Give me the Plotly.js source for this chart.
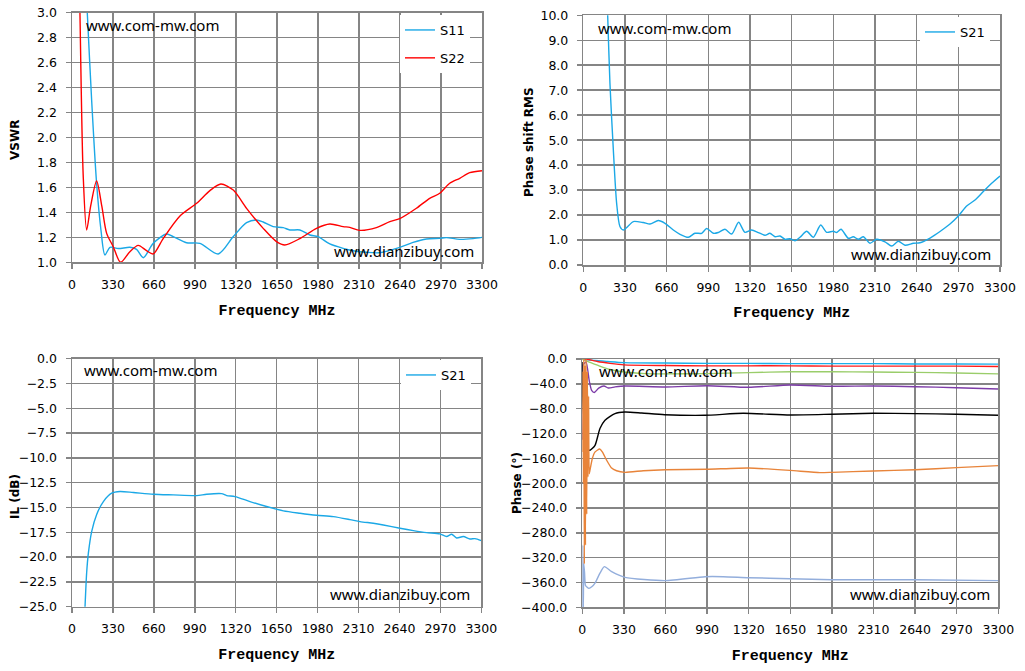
<!DOCTYPE html>
<html>
<head>
<meta charset="utf-8">
<script src="https://cdn.plot.ly/plotly-3.0.1.min.js"></script>
<style>html,body{margin:0;padding:0;background:#fff;}#chart{width:1025px;height:671px;}</style>
</head>
<body>
<div id="chart"></div>
<script>
// ---------- Panel 1: VSWR ----------
const s11Freq = [105,123,158,198,233,265,306,373,466,520,574,654,761,815,922,1030,1177,1298,1405,1485,1539,1619,1700,1753,1834,1914,1981,2075,2182,2263,2370,2477,2638,2745,2853,2960,3013,3121,3228,3300];
const s11Vswr = [3.35,3.0,2.30,1.633,1.259,1.059,1.12,1.11,1.12,1.104,1.037,1.152,1.227,1.206,1.157,1.152,1.067,1.206,1.318,1.339,1.323,1.286,1.278,1.259,1.259,1.219,1.206,1.147,1.112,1.093,1.08,1.077,1.12,1.16,1.187,1.192,1.198,1.184,1.19,1.2];
const s22Freq = [55,64,90,118,150,198,240,279,332,391,466,533,600,654,735,869,1003,1110,1198,1298,1405,1539,1646,1713,1834,1968,2075,2182,2236,2316,2450,2558,2638,2772,2879,2960,3040,3121,3201,3300];
const s22Vswr = [3.5,3.0,1.7,1.259,1.45,1.652,1.45,1.232,1.125,1.0,1.085,1.136,1.093,1.067,1.192,1.371,1.473,1.574,1.627,1.579,1.432,1.272,1.166,1.139,1.19,1.272,1.307,1.286,1.28,1.256,1.278,1.326,1.35,1.433,1.513,1.553,1.633,1.673,1.718,1.734];

// ---------- Panel 2: Phase shift RMS ----------
const rmsFreq = [180,193,211,238,264,290,317,356,396,475,528,594,647,713,766,832,884,937,977,1030,1069,1122,1175,1230,1280,1333,1386,1439,1478,1518,1558,1597,1637,1676,1716,1769,1822,1880,1927,1980,2006,2041,2099,2138,2178,2218,2270,2323,2389,2442,2495,2548,2614,2666,2746,2825,2904,2970,3036,3102,3168,3234,3300];
const rmsVal  = [12,10,7.28,4.6,2.47,1.54,1.40,1.56,1.74,1.70,1.64,1.78,1.67,1.40,1.23,1.11,1.27,1.27,1.46,1.27,1.30,1.43,1.24,1.71,1.31,1.40,1.30,1.19,1.27,1.13,1.16,1.03,1.05,0.97,1.11,1.35,1.11,1.60,1.31,1.35,1.30,1.43,1.07,1.13,1.03,1.13,0.87,1.03,0.93,0.76,0.95,0.79,0.87,0.89,1.08,1.34,1.64,1.96,2.36,2.60,2.94,3.27,3.56];

// ---------- Panel 3: IL ----------
const ilFreq = [100,105,118,132,159,199,253,320,387,494,656,817,1005,1086,1206,1247,1314,1435,1569,1704,1838,1972,2107,2241,2322,2429,2510,2644,2752,2859,2966,3020,3061,3101,3155,3208,3249,3300];
const ilVal  = [-26.5,-25,-21.6,-19.6,-17.4,-15.7,-14.4,-13.56,-13.39,-13.49,-13.66,-13.73,-13.80,-13.66,-13.6,-13.8,-13.9,-14.4,-14.9,-15.34,-15.58,-15.78,-15.92,-16.22,-16.42,-16.59,-16.76,-17.09,-17.33,-17.53,-17.66,-17.93,-17.70,-18.07,-17.93,-18.17,-18.14,-18.34];

// ---------- Panel 4: Phase ----------
const phBlueFreq = [0,30,100,200,330,660,990,1320,1650,1980,2310,2640,2970,3300];
const phBlueVal  = [0,-1,-2.5,-4,-5.8,-6.5,-7,-7,-7.5,-7.5,-7.5,-8,-8,-8.2];
const phRedFreq = [0,50,120,220,330,660,990,1320,1650,1980,2310,2640,2970,3300];
const phRedVal  = [0,-1,-4,-7,-9.5,-10.5,-11,-11,-11,-11.5,-11.5,-11.5,-11.5,-12];
const phGreenFreq = [0,40,120,220,330,500,660,990,1320,1650,1980,2310,2640,2970,3300];
const phGreenVal  = [0,-4,-10,-17,-21,-23.5,-24,-23.5,-22,-20.5,-20.5,-21,-21.5,-22.5,-24];
const phPurpleFreq = [0,4,30,55,74,95,130,172,206,260,339,660,990,1320,1650,1980,2310,2640,2970,3300];
const phPurpleVal  = [-130,-10,-5,-35,-50.5,-54,-47,-43.5,-46.7,-45,-43.5,-45,-43,-45.6,-41.9,-44,-43.5,-44.6,-46.2,-48.3];
const phBlackFreq = [0,4,20,45,61,101,140,180,259,339,471,654,971,1277,1647,1978,2308,2639,2969,3300];
const phBlackVal  = [-5,-65,-110,-145,-147,-139,-112,-98.8,-88,-85.4,-87,-89.7,-90.7,-87.5,-90.2,-89,-87.5,-88,-89,-90.7];
const phOrangeFreq = [0,4,8,12,16,20,25,30,35,40,45,50,55,61,80,100,138,160,193,230,272,338,484,656,986,1319,1647,1885,1978,2308,2639,2969,3300];
const phOrangeVal  = [-150,-20,-200,0,-330,-10,-300,0,-250,-20,-190,-60,-185,-179,-160,-150,-145,-150,-163,-175,-180,-182.6,-180,-178.3,-177.7,-175.6,-179.4,-183,-182.6,-180.4,-178.3,-175,-171.8];
const phSteelFreq = [0,4,8,12,18,25,35,53,75,101,140,175,233,339,656,973,1118,1319,1647,1978,2639,3300];
const phSteelVal  = [-400,-300,-400,-330,-345,-365,-367,-369.5,-367,-361,-345,-334.5,-342.6,-351.7,-357,-350.7,-350.7,-352.3,-353.9,-355.5,-355.5,-357];

const freqTicks = [0,330,660,990,1320,1650,1980,2310,2640,2970,3300];

const W = 1025, H = 671;
const px = v => v / W;
const py = v => 1 - v / H;

const GRID = '#858585';
const tickFont = {family: 'DejaVu Sans', size: 12.5, color: '#000'};
const xTitleFont = {family: 'Liberation Mono', size: 15, color: '#000', weight: 'bold'};
const yTitleFont = {family: 'DejaVu Sans', size: 12, color: '#000', weight: 'bold'};

function xax(dom, anchor) {
  return {
    domain: dom, anchor: anchor, range: [0, 3300], tickvals: freqTicks,
    ticktext: freqTicks.map(String),
    showgrid: true, gridcolor: GRID, gridwidth: 1.5,
    showline: true, linecolor: GRID, linewidth: 1.5, mirror: true,
    ticks: 'outside', ticklen: 5, tickcolor: GRID, tickwidth: 1.5,
    tickfont: tickFont, ticklabelstandoff: 5,
    zeroline: false, fixedrange: true,
    title: {text: 'Frequency MHz', font: xTitleFont, standoff: 13}
  };
}
function yax(dom, anchor, range, dtick) {
  return {
    domain: dom, anchor: anchor, range: range, dtick: dtick, tick0: range[0],
    tickformat: '.1f',
    showgrid: true, gridcolor: GRID, gridwidth: 1.5,
    showline: true, linecolor: GRID, linewidth: 1.5, mirror: true,
    ticks: 'outside', ticklen: 5, tickcolor: GRID, tickwidth: 1.5,
    tickfont: tickFont, ticklabelstandoff: 6,
    zeroline: false, fixedrange: true
  };
}

const lw = 1.4;
const traces = [
  {x: s11Freq, y: s11Vswr, type: 'scatter', mode: 'lines', name: 'S11', xaxis: 'x', yaxis: 'y',
   line: {color: '#1BA8E6', width: lw, shape: 'spline', smoothing: 0.8}, legend: 'legend', legendgroup: 'a'},
  {x: s22Freq, y: s22Vswr, type: 'scatter', mode: 'lines', name: 'S22', xaxis: 'x', yaxis: 'y',
   line: {color: '#FF0000', width: lw, shape: 'spline', smoothing: 0.8}, legend: 'legend', legendgroup: 'b'},
  {x: rmsFreq, y: rmsVal, type: 'scatter', mode: 'lines', name: 'S21', xaxis: 'x2', yaxis: 'y2',
   line: {color: '#1BA8E6', width: lw, shape: 'spline', smoothing: 0.7}, legend: 'legend2'},
  {x: ilFreq, y: ilVal, type: 'scatter', mode: 'lines', name: 'S21', xaxis: 'x3', yaxis: 'y3',
   line: {color: '#1BA8E6', width: lw, shape: 'spline', smoothing: 0.7}, legend: 'legend3'},
  {x: phSteelFreq, y: phSteelVal, type: 'scatter', mode: 'lines', xaxis: 'x4', yaxis: 'y4', showlegend: false,
   line: {color: '#93AEDC', width: lw, shape: 'spline', smoothing: 0.6}},
  {x: phBlueFreq, y: phBlueVal, type: 'scatter', mode: 'lines', xaxis: 'x4', yaxis: 'y4', showlegend: false,
   line: {color: '#1BB0EA', width: lw, shape: 'spline', smoothing: 0.6}},
  {x: phRedFreq, y: phRedVal, type: 'scatter', mode: 'lines', xaxis: 'x4', yaxis: 'y4', showlegend: false,
   line: {color: '#FF1A1A', width: lw, shape: 'spline', smoothing: 0.6}},
  {x: phGreenFreq, y: phGreenVal, type: 'scatter', mode: 'lines', xaxis: 'x4', yaxis: 'y4', showlegend: false,
   line: {color: '#9ACD6A', width: lw, shape: 'spline', smoothing: 0.6}},
  {x: phPurpleFreq, y: phPurpleVal, type: 'scatter', mode: 'lines', xaxis: 'x4', yaxis: 'y4', showlegend: false,
   line: {color: '#7D3CA8', width: lw, shape: 'spline', smoothing: 0.6}},
  {x: phBlackFreq, y: phBlackVal, type: 'scatter', mode: 'lines', xaxis: 'x4', yaxis: 'y4', showlegend: false,
   line: {color: '#000000', width: lw, shape: 'spline', smoothing: 0.6}},
  {x: phOrangeFreq, y: phOrangeVal, type: 'scatter', mode: 'lines', xaxis: 'x4', yaxis: 'y4', showlegend: false,
   line: {color: '#E8843A', width: lw, shape: 'spline', smoothing: 0.5}}
];

const wmFont = {family: 'Noto Sans', size: 15, color: '#000'};
function wm(text, xl, yc) {
  return {text: text, xref: 'paper', yref: 'paper', x: px(xl), y: py(yc), xanchor: 'left', yanchor: 'middle',
          showarrow: false, font: wmFont};
}
function ytitle(text, xc, yc) {
  return {text: text, xref: 'paper', yref: 'paper', x: px(xc), y: py(yc), xanchor: 'center', yanchor: 'middle',
          textangle: -90, showarrow: false, font: yTitleFont};
}

const legFont = {family: 'DejaVu Sans', size: 13, color: '#000'};
const layout = {
  width: W, height: H,
  margin: {l: 0, r: 0, t: 0, b: 0},
  paper_bgcolor: '#fff', plot_bgcolor: '#fff',
  showlegend: true,
  xaxis: xax([px(72), px(482)], 'y'),
  yaxis: yax([py(262.3), py(12.7)], 'x', [1.0, 3.0], 0.2),
  xaxis2: xax([px(583.3), px(1000)], 'y2'),
  yaxis2: yax([py(265), py(15.3)], 'x2', [0, 10], 1),
  xaxis3: xax([px(72), px(481.3)], 'y3'),
  yaxis3: yax([py(606.7), py(358.7)], 'x3', [-25, 0], 2.5),
  xaxis4: xax([px(582.3), px(998.3)], 'y4'),
  yaxis4: yax([py(607.3), py(359)], 'x4', [-400, 0], 40),
  legend: {x: px(400), y: py(15), xanchor: 'left', yanchor: 'top', bgcolor: '#fff', borderwidth: 0,
           font: legFont, tracegroupgap: 8, itemwidth: 30},
  legend2: {x: px(920), y: py(17), xanchor: 'left', yanchor: 'top', bgcolor: '#fff', borderwidth: 0,
           font: legFont, itemwidth: 30},
  legend3: {x: px(401), y: py(360), xanchor: 'left', yanchor: 'top', bgcolor: '#fff', borderwidth: 0,
           font: legFont, itemwidth: 30},
  annotations: [
    wm('www.com-mw.com', 84, 25), wm('www.dianzibuy.com', 332, 251),
    wm('www.com-mw.com', 596, 28), wm('www.dianzibuy.com', 849, 254),
    wm('www.com-mw.com', 82, 370), wm('www.dianzibuy.com', 328, 594),
    wm('www.com-mw.com', 597, 371), wm('www.dianzibuy.com', 848, 594),
    ytitle('VSWR', 15, 140), ytitle('Phase shift RMS', 529, 142),
    ytitle('IL (dB)', 15, 497), ytitle('Phase (°)', 517, 483)
  ]
};

Plotly.newPlot('chart', traces, layout, {staticPlot: true, displayModeBar: false});
</script>
</body>
</html>
